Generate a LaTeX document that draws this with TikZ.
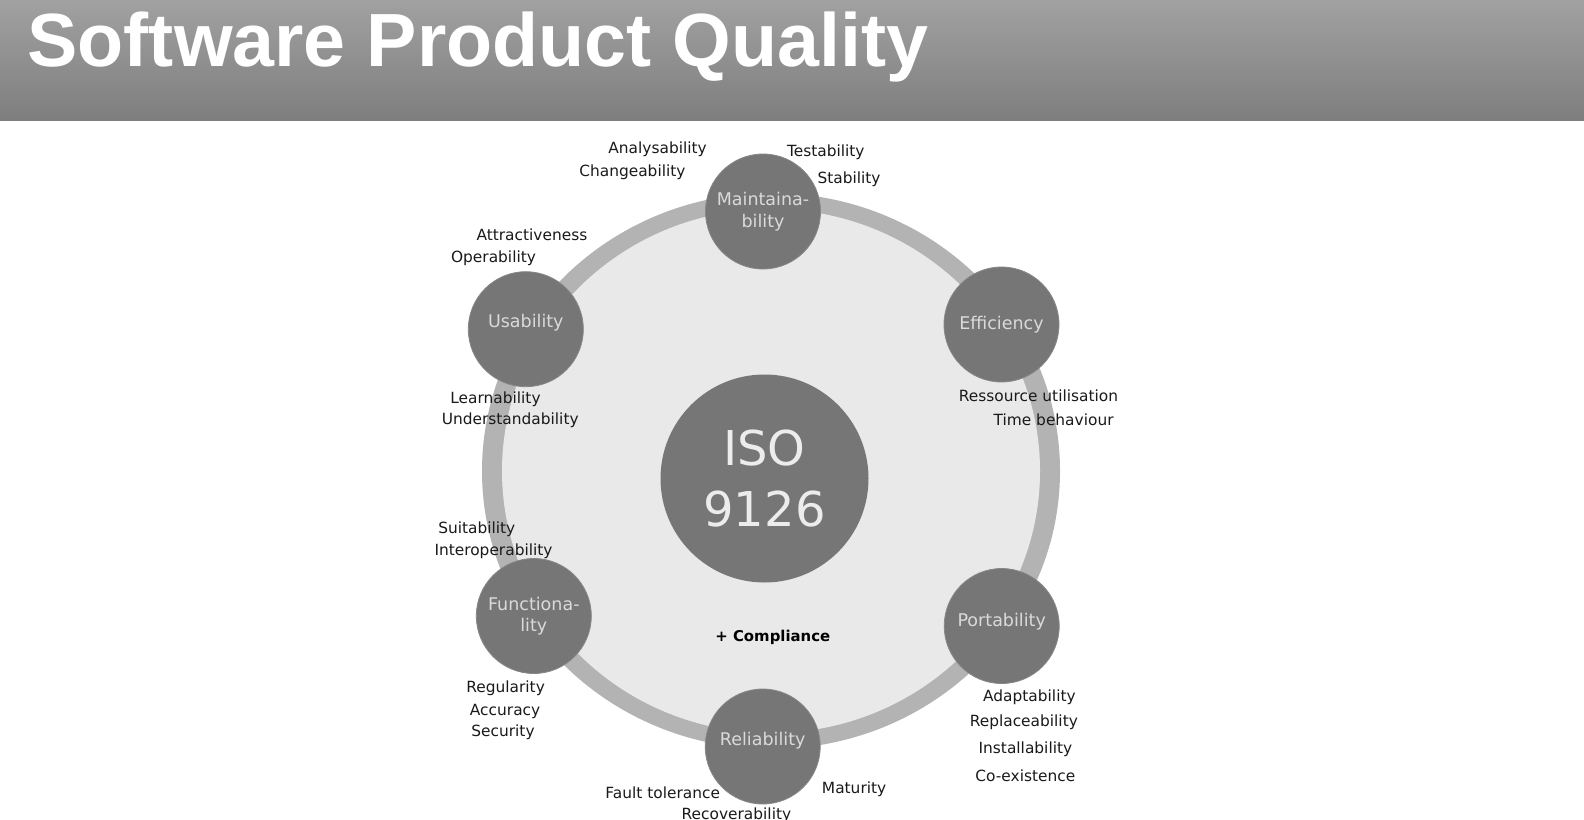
\documentclass[tikz,border=0pt]{standalone}
\usepackage{fontspec}
\setmainfont{DejaVu Sans}
\newfontfamily\titlefont{Liberation Sans}
\definecolor{bartop}{RGB}{161,161,161}
\definecolor{barbot}{RGB}{126,126,126}
\definecolor{ringcol}{RGB}{179,179,179}
\definecolor{innercol}{RGB}{233,233,233}
\definecolor{circcol}{RGB}{118,118,118}
\definecolor{circedge}{RGB}{135,135,135}
\definecolor{circtext}{RGB}{218,218,218}
\definecolor{isotext}{RGB}{236,236,236}
\definecolor{labeltext}{RGB}{26,26,26}
\tikzset{
  charcircle/.style={circle, fill=circcol, draw=circedge, line width=0.8pt, minimum size=115pt, inner sep=0pt},
  chartext/.style={inner sep=0pt, text=circtext, align=center, font=\fontsize{17.5}{21.5}\selectfont},
  attr/.style={inner sep=0pt, text=labeltext, font=\fontsize{15.4}{18}\selectfont},
}
\begin{document}
\begin{tikzpicture}[x=1pt,y=-1pt]
\useasboundingbox (0,0) rectangle (1584,819);
\fill[white] (0,0) rectangle (1584,819);
% title bar
\shade[top color=bartop, bottom color=barbot] (0,0) rectangle (1584,120);
\node[anchor=base west, inner sep=0pt, text=white, font=\titlefont\bfseries\fontsize{75.4}{80}\selectfont] (title) at (27.3,66.7) {Software Product Quality};
% ring
\fill[ringcol] (771,471) ellipse[x radius=289, y radius=278];
\fill[innercol] (771,471) ellipse[x radius=269, y radius=262];
% centre
\node[circle, fill=circcol, minimum size=208pt, inner sep=0pt, text=isotext, align=center, font=\fontsize{48}{61}\selectfont] (iso) at (764.5,478.5) {ISO\\9126};
\node[inner sep=0pt, font=\bfseries\fontsize{14.9}{18}\selectfont, text=black] (comp) at (772.8,637.5) {+ Compliance};
% characteristic circles
\node[charcircle] (maint) at (763,211.5) {};
\node[charcircle] (eff) at (1001.5,324.5) {};
\node[charcircle] (port) at (1001.7,626) {};
\node[charcircle] (rel) at (762.7,746.5) {};
\node[charcircle] (func) at (533.8,616) {};
\node[charcircle] (usab) at (525.8,329.2) {};
\node[chartext] (maintT) at (maint.center) {Maintaina-\\bility};
\node[chartext] (effT) at (eff.center) {Efficiency};
\node[chartext] (portT) at ([yshift=4pt]port.center) {Portability};
\node[chartext] (relT) at ([yshift=6pt]rel.center) {Reliability};
\node[chartext] (funcT) at (func.center) {Functiona-\\lity};
\node[chartext] (usabT) at ([yshift=7pt]usab.center) {Usability};
% attributes
\node[attr] (a1) at (657.6,149.5) {Analysability};
\node[attr] (a2) at (632.4,172.7) {Changeability};
\node[attr] (a3) at (825.8,152.5) {Testability};
\node[attr] (a4) at (849,178.8) {Stability};
\node[attr] (u1) at (531.9,235.2) {Attractiveness};
\node[attr] (u2) at (493.5,258.4) {Operability};
\node[attr] (u3) at (495.5,398.8) {Learnability};
\node[attr] (u4) at (510.2,420) {Understandability};
\node[attr] (e1) at (1038.5,395.8) {Ressource utilisation};
\node[attr] (e2) at (1053.6,420) {Time behaviour};
\node[attr] (f1) at (476.8,529.1) {Suitability};
\node[attr] (f2) at (493.5,551.3) {Interoperability};
\node[attr] (f3) at (505.6,687.8) {Regularity};
\node[attr] (f4) at (505.1,711) {Accuracy};
\node[attr] (f5) at (503,732.2) {Security};
\node[attr] (p1) at (1029.4,696.8) {Adaptability};
\node[attr] (p2) at (1023.8,722.1) {Replaceability};
\node[attr] (p3) at (1025.4,749.3) {Installability};
\node[attr] (p4) at (1025.4,775.6) {Co-existence};
\node[attr] (r1) at (662.7,792.8) {Fault tolerance};
\node[attr] (r2) at (854.1,788.8) {Maturity};
\node[attr] (r3) at (736.4,815.5) {Recoverability};
\end{tikzpicture}
\end{document}
